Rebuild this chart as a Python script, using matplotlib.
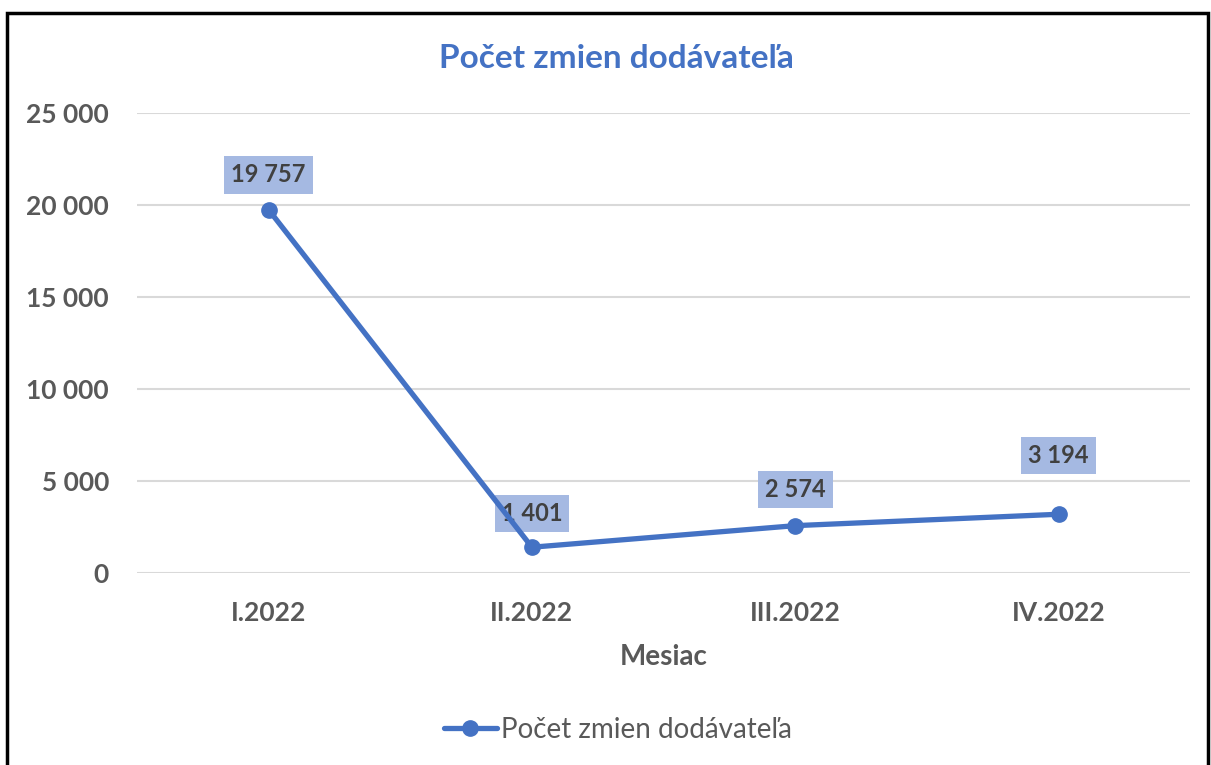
import matplotlib
matplotlib.use("Agg")
import matplotlib.pyplot as plt
from matplotlib.patches import Rectangle
from matplotlib.ticker import FuncFormatter

plt.rcParams["font.family"] = ["Lato", "DejaVu Sans"]

months = ["I.2022", "II.2022", "III.2022", "IV.2022"]
zmeny = [19757, 1401, 2574, 3194]
series_name = "Počet zmien dodávateľa"

BLUE = "#4472C4"
GRAY = "#595959"
label_offsets = [25, 24.5, 26, 42.5]   # points above the marker


def fmt(v, pos=None):
    return f"{int(v):,}".replace(",", " ")


fig = plt.figure(figsize=(12.11, 7.65), dpi=100)
ax = fig.add_axes([0.113, 0.251, 0.870, 0.601])

x = range(len(months))
ax.plot(x, zmeny, color=BLUE, lw=3.8, marker="o", ms=11, label=series_name,
        solid_capstyle="round", zorder=4)

# data labels sit under the line (the II.2022 one is crossed by it)
for xi, v, off in zip(x, zmeny, label_offsets):
    ax.annotate(fmt(v), (xi, v), xytext=(0, off), textcoords="offset points",
                ha="center", va="center", fontsize=17, fontweight="bold",
                color="#404040", zorder=3,
                bbox=dict(boxstyle="square,pad=0.3", fc="#A5B9E2", ec="none"))

ax.set_xlim(-0.5, 3.5)
ax.set_ylim(0, 25000)
ax.set_yticks(range(0, 25001, 5000))
ax.yaxis.set_major_formatter(FuncFormatter(fmt))
ax.set_xticks(list(x))
ax.set_xticklabels(months)
ax.tick_params(length=0, labelsize=19, labelcolor=GRAY, pad=20)
ax.tick_params(axis="x", pad=20)
for lbl in ax.get_xticklabels() + ax.get_yticklabels():
    lbl.set_fontweight("bold")

ax.yaxis.grid(True, color="#D9D9D9", lw=1.5)
ax.set_axisbelow(True)
for s in ax.spines.values():
    s.set_visible(False)

ax.set_xlabel("Mesiac", fontsize=20, fontweight="bold", color=GRAY, labelpad=14)
fig.text(616 / 1211, 1 - 59 / 765, series_name, ha="center", va="center",
         fontsize=24, fontweight="bold", color=BLUE)

ax.legend(loc="center", frameon=False, fontsize=20, labelcolor=GRAY,
          handlelength=1.9, handletextpad=0.15)
leg = ax.get_legend()
leg.set_bbox_to_anchor((618 / 1211, 1 - 730 / 765), transform=fig.transFigure)

fig.patches.append(Rectangle((7 / 1211, -0.05), 1201 / 1211, 1.05 - 13 / 765,
                             transform=fig.transFigure, fill=False,
                             ec="black", lw=2.5))

fig.savefig("out.png", dpi=100)
